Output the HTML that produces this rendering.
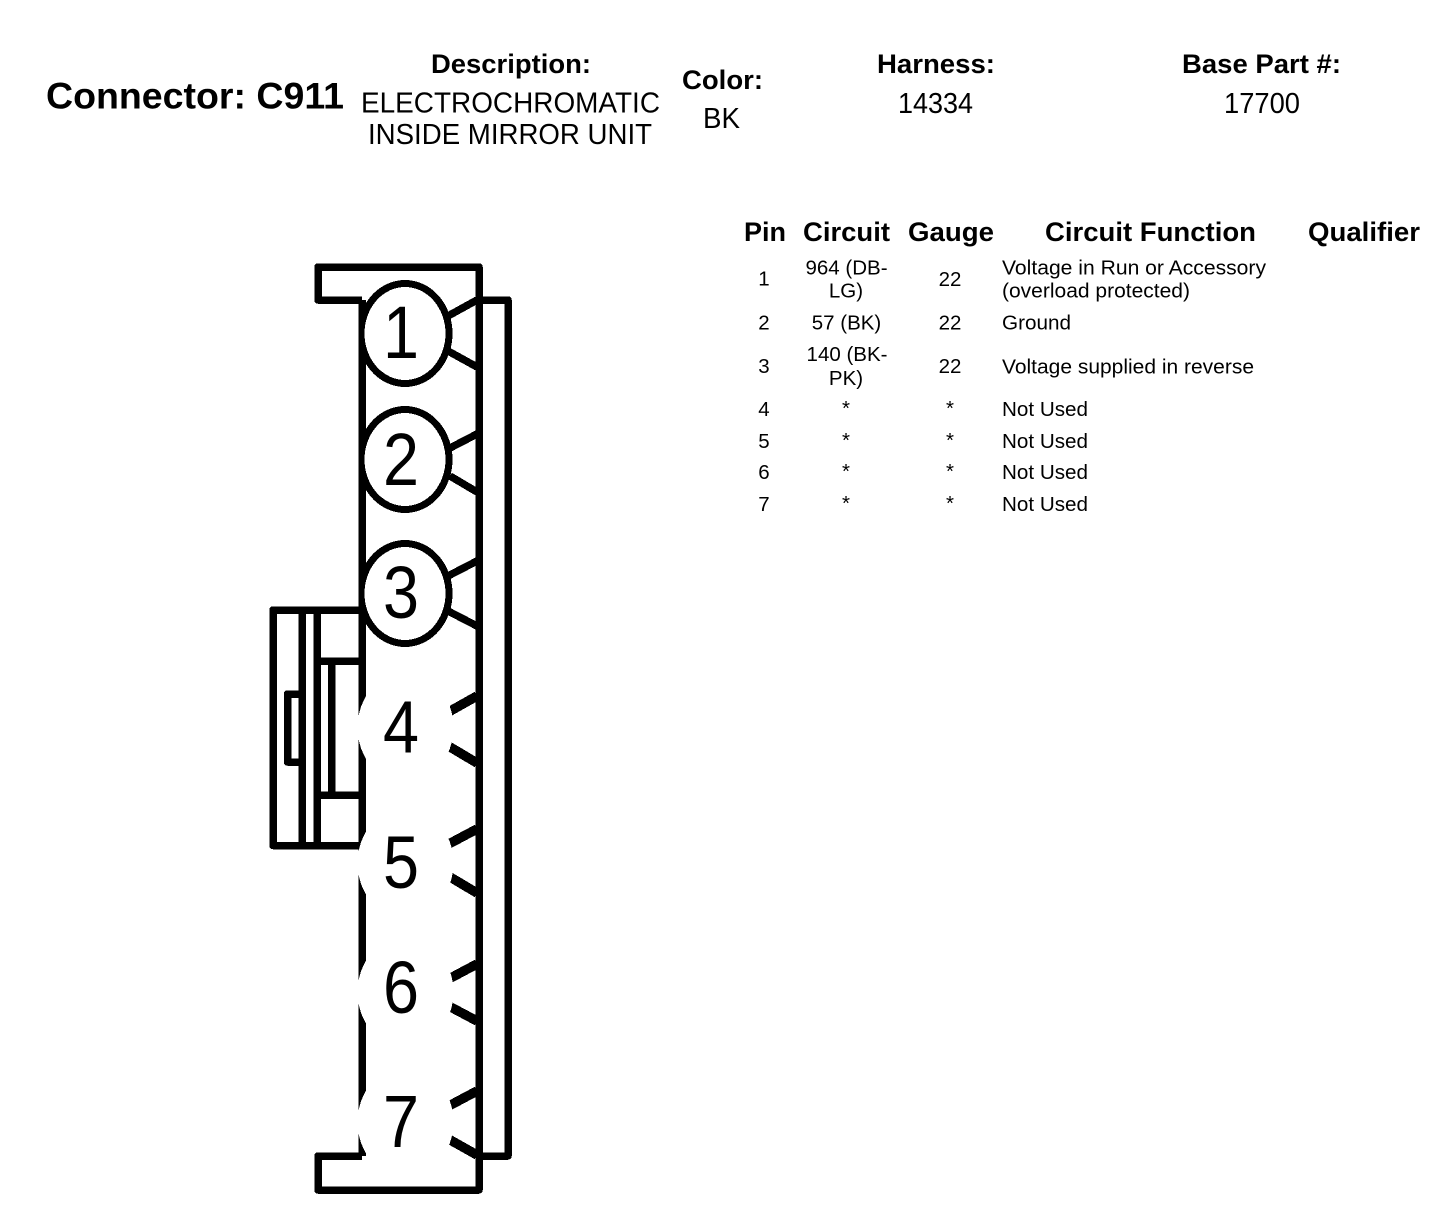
<!DOCTYPE html>
<html><head><meta charset="utf-8"><style>
html,body{margin:0;padding:0;background:#fff}
svg{display:block}
text{font-family:"Liberation Sans",sans-serif;fill:#000}
.b{font-weight:bold;font-size:26.5px}
.h{font-size:28.5px}
.t{font-size:20.5px}
.d{font-size:74px}
.l{fill:none;stroke:#000;stroke-width:7.5;stroke-linejoin:round;stroke-linecap:butt}
.s{fill:none;stroke:#000;stroke-width:9.5;stroke-linecap:butt}
</style></head><body>
<svg xmlns="http://www.w3.org/2000/svg" width="1456" height="1226" viewBox="0 0 1456 1226">
<rect width="1456" height="1226" fill="#fff"/>
<g shape-rendering="crispEdges">
<path class="l" d="M362 300V1156"/>
<path class="l" d="M448 316L477 300M448 351L477 367M450 448L477 434M450 476L477 492M448 576L477 561M448 611L477 626"/>
<path class="s" d="M445 714L477 696M445 744L477 763M445 846L477 829M445 874L477 893M445 981L477 964M445 1004L477 1021M445 1108L477 1091M445 1137L477 1155"/>
<g fill="#fff" stroke="#000" stroke-width="7">
<ellipse cx="405" cy="333.500" rx="44" ry="50"/>
<ellipse cx="405" cy="459.500" rx="44" ry="50"/>
<ellipse cx="405" cy="593.500" rx="44" ry="50"/>
</g>
<rect x="350" y="275" width="8.500" height="375" fill="#fff"/>
<g fill="#fff">
<ellipse cx="405.500" cy="727.500" rx="48" ry="55"/>
<ellipse cx="405.500" cy="863" rx="48" ry="55"/>
<ellipse cx="405.500" cy="992" rx="48" ry="55"/>
<ellipse cx="405.500" cy="1122" rx="48" ry="55"/>
</g>
<path class="l" d="M362 300H318V267H479V1190H318V1156H362"/>
<path class="l" d="M483 300H508V1156H483"/>
<path class="l" d="M359 610H273V845.500H359"/>
<path class="l" d="M302 610V845.500M317 610V845.500M317 661H362M317 795H362M331.500 661V795"/>
<path class="l" d="M302 694H287.500V762H302"/>
</g>
<g text-anchor="middle">
<text class="d" x="401" y="358" textLength="36" lengthAdjust="spacingAndGlyphs">1</text>
<text class="d" x="401" y="485" textLength="36" lengthAdjust="spacingAndGlyphs">2</text>
<text class="d" x="401" y="618" textLength="36" lengthAdjust="spacingAndGlyphs">3</text>
<text class="d" x="401" y="752.500" textLength="36" lengthAdjust="spacingAndGlyphs">4</text>
<text class="d" x="401" y="888" textLength="36" lengthAdjust="spacingAndGlyphs">5</text>
<text class="d" x="401" y="1013" textLength="36" lengthAdjust="spacingAndGlyphs">6</text>
<text class="d" x="401" y="1147" textLength="36" lengthAdjust="spacingAndGlyphs">7</text>
</g>
<text class="b" style="font-size:37px" x="46" y="108.500" textLength="298" lengthAdjust="spacingAndGlyphs">Connector: C911</text>
<text class="b" x="431" y="73" textLength="160" lengthAdjust="spacingAndGlyphs">Description:</text>
<text class="h" x="361" y="112.500" textLength="299" lengthAdjust="spacingAndGlyphs">ELECTROCHROMATIC</text>
<text class="h" x="368" y="144" textLength="284" lengthAdjust="spacingAndGlyphs">INSIDE MIRROR UNIT</text>
<text class="b" x="682" y="89" textLength="81" lengthAdjust="spacingAndGlyphs">Color:</text>
<text class="h" x="703" y="128" textLength="37" lengthAdjust="spacingAndGlyphs">BK</text>
<text class="b" x="877" y="73" textLength="118" lengthAdjust="spacingAndGlyphs">Harness:</text>
<text class="h" x="898" y="113" textLength="75" lengthAdjust="spacingAndGlyphs">14334</text>
<text class="b" x="1182" y="73" textLength="159" lengthAdjust="spacingAndGlyphs">Base Part #:</text>
<text class="h" x="1224" y="113" textLength="76" lengthAdjust="spacingAndGlyphs">17700</text>
<text class="b" x="744" y="241" textLength="42" lengthAdjust="spacingAndGlyphs">Pin</text>
<text class="b" x="803" y="241" textLength="87" lengthAdjust="spacingAndGlyphs">Circuit</text>
<text class="b" x="908" y="241" textLength="86" lengthAdjust="spacingAndGlyphs">Gauge</text>
<text class="b" x="1045" y="241" textLength="211" lengthAdjust="spacingAndGlyphs">Circuit Function</text>
<text class="b" x="1308" y="241" textLength="112" lengthAdjust="spacingAndGlyphs">Qualifier</text>
<g text-anchor="middle">
<text class="t" x="764" y="285.500">1</text><text class="t" x="764" y="329.500">2</text><text class="t" x="764" y="373">3</text>
<text class="t" x="764" y="416">4</text><text class="t" x="764" y="448">5</text><text class="t" x="764" y="479">6</text><text class="t" x="764" y="511">7</text>
<text class="t" x="846.500" y="274.500">964 (DB-</text><text class="t" x="846" y="297.500">LG)</text>
<text class="t" x="846.500" y="329.500">57 (BK)</text>
<text class="t" x="847" y="361">140 (BK-</text><text class="t" x="846" y="385">PK)</text>
<text class="t" x="846" y="415">*</text><text class="t" x="846" y="447">*</text><text class="t" x="846" y="478">*</text><text class="t" x="846" y="510">*</text>
<text class="t" x="950" y="286">22</text><text class="t" x="950" y="329.500">22</text><text class="t" x="950" y="373">22</text>
<text class="t" x="950" y="415">*</text><text class="t" x="950" y="447">*</text><text class="t" x="950" y="478">*</text><text class="t" x="950" y="510">*</text>
</g>
<text class="t" x="1002" y="274.500" textLength="264" lengthAdjust="spacingAndGlyphs">Voltage in Run or Accessory</text>
<text class="t" x="1002" y="297.500" textLength="188" lengthAdjust="spacingAndGlyphs">(overload protected)</text>
<text class="t" x="1002" y="329.500" textLength="69" lengthAdjust="spacingAndGlyphs">Ground</text>
<text class="t" x="1002" y="373.500" textLength="252" lengthAdjust="spacingAndGlyphs">Voltage supplied in reverse</text>
<text class="t" x="1002" y="416" textLength="86" lengthAdjust="spacingAndGlyphs">Not Used</text>
<text class="t" x="1002" y="448" textLength="86" lengthAdjust="spacingAndGlyphs">Not Used</text>
<text class="t" x="1002" y="479" textLength="86" lengthAdjust="spacingAndGlyphs">Not Used</text>
<text class="t" x="1002" y="511" textLength="86" lengthAdjust="spacingAndGlyphs">Not Used</text>
</svg>
</body></html>
